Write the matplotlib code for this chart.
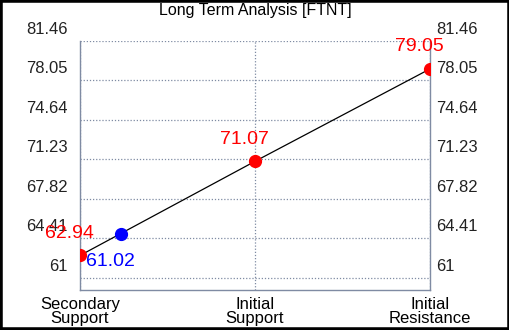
import matplotlib.pyplot as plt
import matplotlib.transforms as mtransforms
import numpy as np

plt.rcParams['font.family'] = ['Liberation Sans', 'DejaVu Sans']

categories = ["Secondary\nSupport", "Initial\nSupport", "Initial\nResistance"]
levels = [62.94, 71.07, 79.05]
level_labels = ["62.94", "71.07", "79.05"]
current_x = 0.235
current_y = 64.8
current_label = "61.02"
yticks = [61, 64.41, 67.82, 71.23, 74.64, 78.05, 81.46]
ytick_labels = ["61", "64.41", "67.82", "71.23", "74.64", "78.05", "81.46"]

fig = plt.figure(figsize=(5.1, 3.3), dpi=100)
ax = fig.add_axes([80/510, 40/330, 350/510, 249/330])
x = np.arange(len(categories))

ax.plot(x, levels, color='black', linewidth=0.9, zorder=2)
ax.plot(x, levels, 'o', color='red', markersize=8.5, zorder=3)
ax.plot([current_x], [current_y], 'o', color='blue', markersize=8.5, zorder=3)

for xi, yi, lab in zip(x, levels, level_labels):
    ax.annotate(lab, (xi, yi), xytext=(-11, 22), textcoords='offset pixels',
                ha='center', va='center', color='red', fontsize=14, zorder=4)
ax.annotate(current_label, (current_x, current_y), xytext=(-11, -28),
            textcoords='offset pixels', ha='center', va='center',
            color='blue', fontsize=14, zorder=4)

ax.set_xlim(0, 2)
ax.set_ylim(59.96, 81.46)
ax.set_xticks(x)
ax.set_xticklabels(categories, fontsize=12, linespacing=0.9)
ax.set_yticks(yticks)
ax.set_yticklabels(ytick_labels, fontsize=12)
ax.tick_params(axis='both', length=0)
ax.tick_params(axis='y', labelright=True, pad=8.6)
ax.tick_params(axis='x', pad=5)

off1 = mtransforms.ScaledTranslation(0, 13/100, fig.dpi_scale_trans)
off2 = mtransforms.ScaledTranslation(-6/100, 13/100, fig.dpi_scale_trans)
for t in ax.yaxis.get_major_ticks():
    t.label1.set_transform(t.label1.get_transform() + off1)
    t.label2.set_transform(t.label2.get_transform() + off2)
    t.label1.set_color('#222222')
    t.label2.set_color('#222222')

gc = '#7f8ba3'
ax.grid(True, linestyle=(0, (1, 1.5)), color=gc, linewidth=0.9)
for s in ['left', 'right', 'bottom']:
    ax.spines[s].set_color(gc)
    ax.spines[s].set_linewidth(1)
ax.spines['top'].set_visible(False)

fig.text(0.5, 0.968, "Long Term Analysis [FTNT]", ha='center', va='center', fontsize=11.5)

border = plt.Rectangle((0, 0), 1, 1, transform=fig.transFigure, fill=False,
                       edgecolor='black', linewidth=4)
fig.patches.append(border)

fig.savefig("out.png", dpi=100)
